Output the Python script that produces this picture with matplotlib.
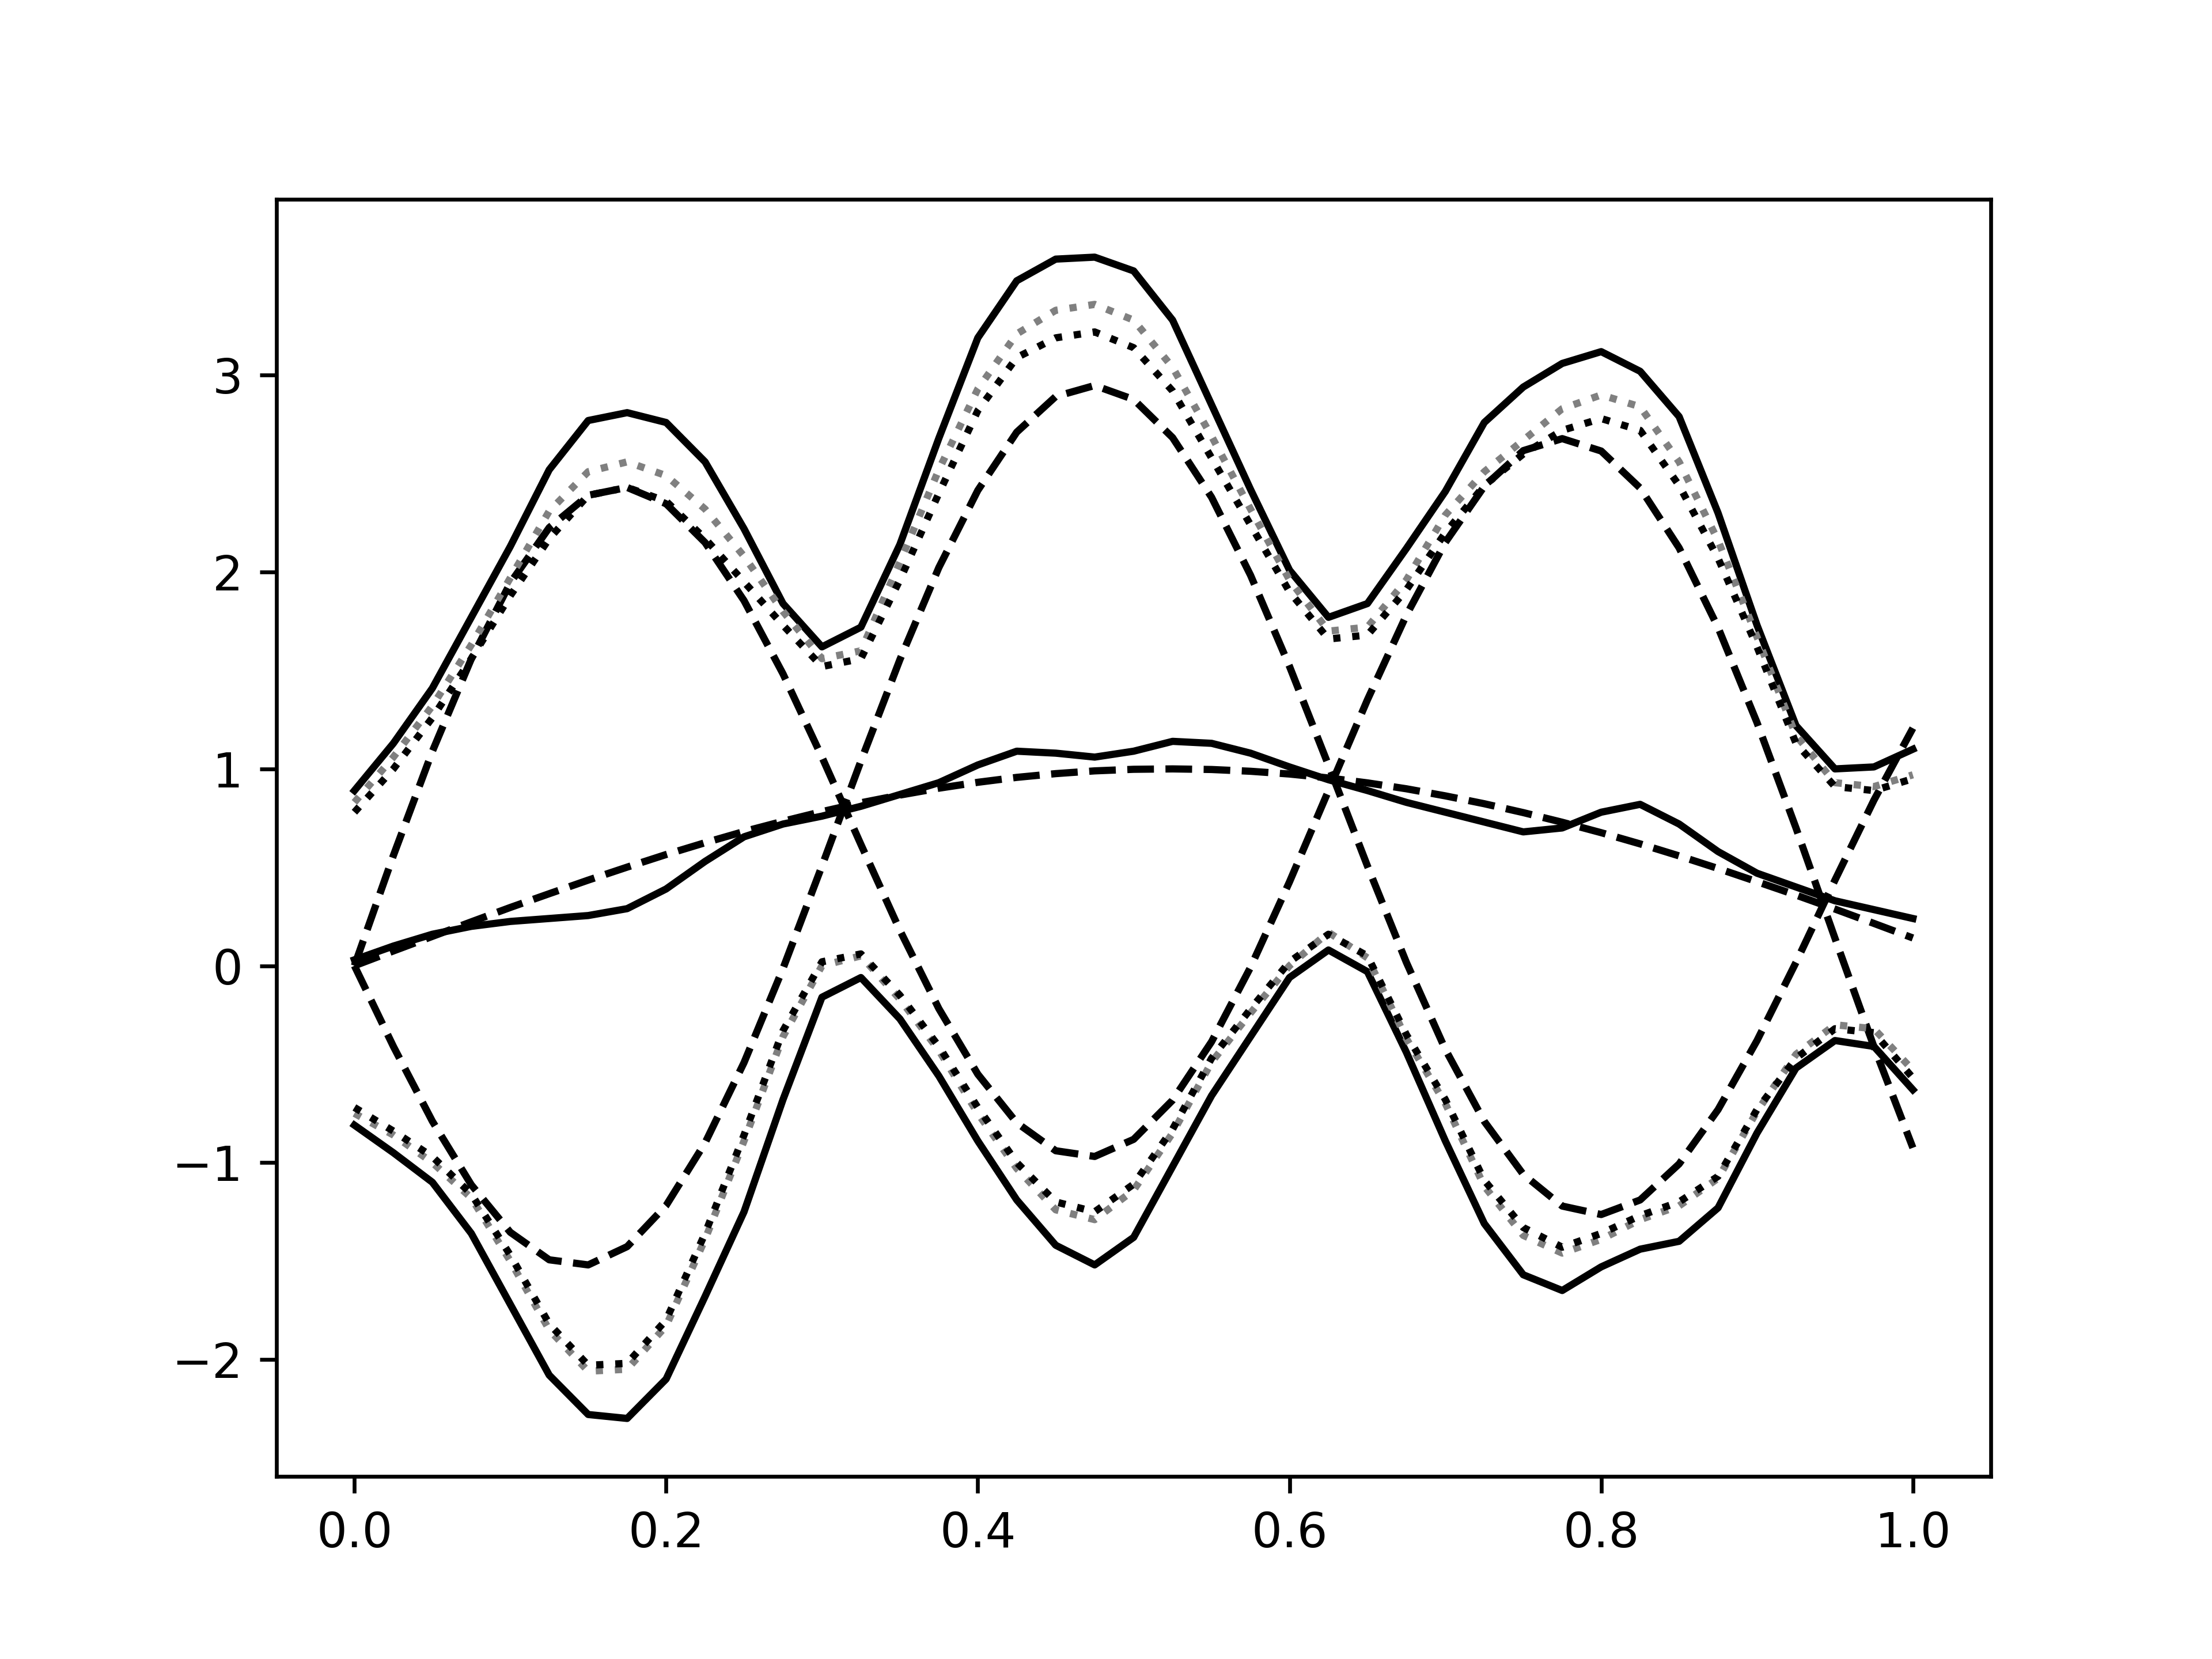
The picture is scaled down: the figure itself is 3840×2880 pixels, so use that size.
import numpy as np
import matplotlib
matplotlib.use("Agg")
import matplotlib.pyplot as plt

x = [0.0, 0.025, 0.05, 0.075, 0.1, 0.125, 0.15, 0.175, 0.2, 0.225,
     0.25, 0.275, 0.3, 0.325, 0.35, 0.375, 0.4, 0.425, 0.45, 0.475,
     0.5, 0.525, 0.55, 0.575, 0.6, 0.625, 0.65, 0.675, 0.7, 0.725,
     0.75, 0.775, 0.8, 0.825, 0.85, 0.875, 0.9, 0.925, 0.95, 0.975, 1.0]

true_f = [0.0, 0.075, 0.149, 0.223, 0.296, 0.366, 0.435, 0.501, 0.565, 0.625,
          0.682, 0.734, 0.783, 0.828, 0.867, 0.902, 0.932, 0.957, 0.976, 0.990,
          0.998, 1.0, 0.997, 0.988, 0.974, 0.954, 0.929, 0.899, 0.863, 0.823,
          0.778, 0.729, 0.676, 0.619, 0.558, 0.494, 0.427, 0.359, 0.288, 0.215, 0.141]

band_a = [0.0, 0.560, 1.089, 1.559, 1.945, 2.226, 2.390, 2.430, 2.347, 2.150,
          1.855, 1.483, 1.060, 0.616, 0.180, -0.218, -0.551, -0.798, -0.940, -0.969,
          -0.882, -0.683, -0.386, -0.008, 0.426, 0.889, 1.351, 1.781, 2.151, 2.436,
          2.617, 2.678, 2.615, 2.427, 2.123, 1.718, 1.235, 0.700, 0.140, -0.411, -0.925]

band_b = [0.0, -0.410, -0.790, -1.113, -1.354, -1.494, -1.520, -1.427, -1.218, -0.900,
          -0.492, -0.014, 0.507, 1.040, 1.555, 2.023, 2.415, 2.711, 2.892, 2.948,
          2.877, 2.683, 2.380, 1.984, 1.521, 1.019, 0.507, 0.017, -0.425, -0.791,
          -1.060, -1.221, -1.264, -1.190, -1.007, -0.731, -0.380, 0.017, 0.435, 0.841, 1.207]

mean = [0.03, 0.10, 0.16, 0.20, 0.225, 0.24, 0.255, 0.29, 0.39, 0.53,
        0.655, 0.72, 0.76, 0.81, 0.87, 0.93, 1.02, 1.09, 1.08, 1.06,
        1.09, 1.14, 1.13, 1.08, 1.01, 0.945, 0.89, 0.83, 0.78, 0.73,
        0.68, 0.70, 0.78, 0.82, 0.72, 0.58, 0.47, 0.40, 0.33, 0.285, 0.24]

upper_solid = [0.89, 1.13, 1.41, 1.77, 2.13, 2.52, 2.77, 2.81, 2.76, 2.56,
               2.22, 1.84, 1.62, 1.72, 2.14, 2.68, 3.19, 3.48, 3.59, 3.60,
               3.53, 3.28, 2.85, 2.42, 2.01, 1.77, 1.84, 2.12, 2.41, 2.76,
               2.94, 3.06, 3.12, 3.02, 2.79, 2.30, 1.73, 1.22, 1.00, 1.01, 1.10]

lower_solid = [-0.81, -0.95, -1.10, -1.36, -1.72, -2.08, -2.28, -2.30, -2.10, -1.68,
               -1.25, -0.68, -0.16, -0.06, -0.27, -0.56, -0.89, -1.19, -1.42, -1.52,
               -1.38, -1.02, -0.66, -0.36, -0.06, 0.08, -0.03, -0.44, -0.89, -1.31,
               -1.57, -1.65, -1.53, -1.44, -1.40, -1.23, -0.85, -0.52, -0.38, -0.41, -0.63]

upper_gray = [0.83, 1.06, 1.32, 1.63, 1.97, 2.31, 2.51, 2.56, 2.49, 2.32,
              2.08, 1.80, 1.56, 1.60, 2.05, 2.52, 2.93, 3.21, 3.33, 3.36,
              3.28, 3.04, 2.69, 2.32, 1.96, 1.70, 1.72, 1.96, 2.29, 2.51,
              2.67, 2.83, 2.90, 2.84, 2.56, 2.16, 1.67, 1.17, 0.93, 0.91, 0.97]

lower_gray = [-0.75, -0.86, -1.00, -1.18, -1.50, -1.85, -2.06, -2.05, -1.83, -1.39,
              -0.89, -0.36, 0.00, 0.05, -0.17, -0.43, -0.75, -1.03, -1.24, -1.29,
              -1.14, -0.85, -0.49, -0.24, 0.00, 0.17, 0.04, -0.37, -0.70, -1.12,
              -1.37, -1.46, -1.39, -1.29, -1.22, -1.08, -0.74, -0.45, -0.30, -0.32, -0.53]

upper_dot = [0.78, 1.00, 1.26, 1.56, 1.88, 2.17, 2.39, 2.43, 2.36, 2.17,
             1.95, 1.73, 1.52, 1.56, 1.96, 2.40, 2.82, 3.09, 3.19, 3.22,
             3.14, 2.92, 2.58, 2.24, 1.90, 1.66, 1.68, 1.91, 2.20, 2.44,
             2.60, 2.72, 2.78, 2.72, 2.44, 2.07, 1.62, 1.13, 0.91, 0.89, 0.95]

lower_dot = [-0.72, -0.84, -0.97, -1.16, -1.47, -1.82, -2.03, -2.02, -1.80, -1.36,
             -0.86, -0.33, 0.02, 0.06, -0.15, -0.41, -0.72, -1.00, -1.20, -1.25,
             -1.11, -0.83, -0.47, -0.22, 0.02, 0.16, 0.05, -0.35, -0.68, -1.09,
             -1.33, -1.43, -1.36, -1.27, -1.20, -1.07, -0.73, -0.47, -0.32, -0.34, -0.57]

fig, ax = plt.subplots(figsize=(6.4, 4.8), dpi=600)

ax.plot(x, true_f, 'k--')
ax.plot(x, band_a, 'k--')
ax.plot(x, band_b, 'k--')
ax.plot(x, mean, 'k-')
ax.plot(x, upper_solid, 'k-')
ax.plot(x, lower_solid, 'k-')
ax.plot(x, upper_gray, ':', color='gray')
ax.plot(x, lower_gray, ':', color='gray')
ax.plot(x, upper_dot, 'k:')
ax.plot(x, lower_dot, 'k:')

fig.savefig("out.png", dpi=600)
